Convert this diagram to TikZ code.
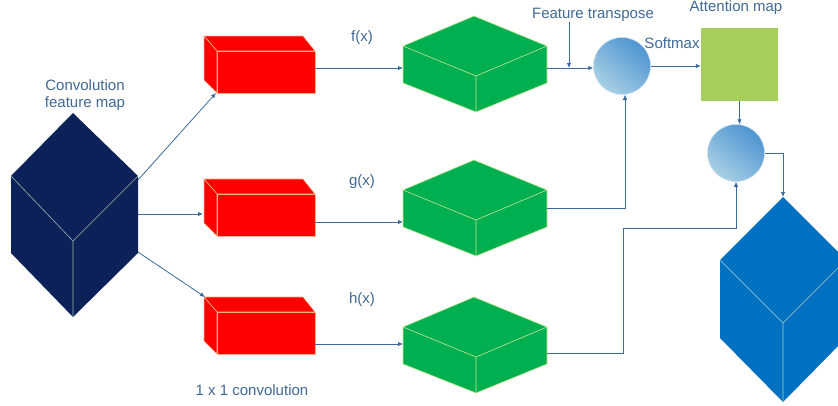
\documentclass[tikz,border=0pt]{standalone}
\usepackage{fontspec}
\setmainfont{Liberation Sans}
\usetikzlibrary{arrows.meta}

\definecolor{navy}{RGB}{11,33,88}
\definecolor{navyedge}{RGB}{150,185,170}
\definecolor{outblue}{RGB}{0,112,192}
\definecolor{outedge}{RGB}{160,210,190}
\definecolor{convred}{RGB}{255,0,0}
\definecolor{convedge}{RGB}{244,177,131}
\definecolor{featgreen}{RGB}{0,176,80}
\definecolor{featedge}{RGB}{200,230,150}
\definecolor{attgreen}{RGB}{166,206,90}
\definecolor{lineblue}{RGB}{62,106,156}
\definecolor{labelblue}{RGB}{65,105,150}
\definecolor{ballDark}{RGB}{78,148,210}
\definecolor{ballLight}{RGB}{168,208,228}

\tikzset{
  lbl/.style={text=labelblue, font=\fontsize{15}{17}\selectfont, inner sep=0pt},
  arr/.style={draw=lineblue, line width=0.8pt, -{Latex[length=5pt,width=4.5pt]}},
  convbox/.style={fill=convred, draw=convedge, line width=0.6pt, line join=round},
  featbox/.style={fill=featgreen, draw=featedge, line width=0.6pt, line join=round},
  featedge/.style={draw=featedge, line width=0.6pt},
  cubeedge/.style={draw=#1, line width=0.6pt},
  mult/.style={circle, minimum size=57pt, inner sep=0pt, draw=white!70!ballDark,
    line width=0.5pt, top color=ballDark, bottom color=ballLight, shading angle=-40},
  attbox/.style={fill=attgreen, minimum width=77pt, minimum height=73pt, inner sep=0pt}
}

\begin{document}
\begin{tikzpicture}[x=1pt,y=-1pt]
  \clip (0,0) rectangle (838,405);
  \fill[white] (0,0) rectangle (838,405);

  % input feature map
  \fill[navy] (73,113) -- (138,176) -- (138,253) -- (73,317) -- (11,253) -- (11,176) -- cycle;
  \draw[cubeedge=navyedge] (11,176) -- (73,241) -- (138,176) (73,241) -- (73,317);
  \node[lbl, align=center] (inlbl) at (85,95) {Convolution\\feature map};

  % 1x1 convolutions and the f, g, h features
  \foreach \n/\r/\g/\a/\b/\l in {f/0/0/68/68/38, g/143/144/222/208/182, h/261/281/344/353/300}{
    \begin{scope}[shift={(0,\r)}]
      \filldraw[convbox] (204,36) -- (303,36) -- (315,51) -- (217,51) -- cycle;
      \filldraw[convbox] (204,36) -- (217,51) -- (217,93) -- (204,80) -- cycle;
      \filldraw[convbox] (217,51) rectangle (315,93);
    \end{scope}
    \begin{scope}[shift={(0,\g)}]
      \filldraw[featbox] (474,16) -- (547,46) -- (547,83) -- (476,112) -- (403,83) -- (403,46) -- cycle;
      \draw[featedge] (403,46) -- (476,76) -- (547,46) (476,76) -- (476,112);
    \end{scope}
    \coordinate (\n-a) at (315,\a);
    \coordinate (\n-b) at (403,\a);
    \coordinate (\n-c) at (547,\b);
    \node[lbl] (\n-lbl) at (362,\l) {\n(x)};
    \draw[arr] (\n-a) -- (\n-b);
  }
  \node[lbl] (convlbl) at (252,390) {1 x 1 convolution};

  % links from the input
  \coordinate (in1) at (138,180);
  \coordinate (in2) at (138,214);
  \coordinate (in3) at (138,252);
  \coordinate (f-in) at (216,93);
  \coordinate (g-in) at (203,214);
  \coordinate (h-in) at (205,297);
  \draw[arr] (in1) -- (f-in);
  \draw[arr] (in2) -- (g-in);
  \draw[arr] (in3) -- (h-in);

  % attention branch
  \node[mult] (mul1) at (622,66) {};
  \node[mult] (mul2) at (736,153) {};
  \node[attbox] (att) at (739.5,64.5) {};
  \node[lbl] (ft) at (593,15) {Feature transpose};
  \node[lbl] (attlbl) at (736,8) {Attention map};
  \node[lbl] (smx) at (672,43) {Softmax};
  \coordinate (tp) at (569,22);

  \draw[arr] (f-c) -- (f-c -| mul1.west);
  \draw[arr] (tp) -- (tp |- f-c);
  \draw[arr] (g-c) -| ([xshift=3pt]mul1.south);
  \draw[arr] (mul1.east) -- (mul1.east -| att.west);
  \draw[arr] (att.south) -- (att.south |- mul2.north);
  \coordinate (bend) at (623,228);
  \draw[arr] (h-c) -| (bend) -| (mul2.south);

  % output feature map
  \fill[outblue] (783,197) -- (846,260) -- (846,338) -- (783,402) -- (720,338) -- (720,260) -- cycle;
  \draw[cubeedge=outedge] (720,260) -- (783,323) -- (846,260) (783,323) -- (783,402);
  \coordinate (out) at (783,197);
  \draw[arr] (mul2.east) -| (out);
\end{tikzpicture}
\end{document}
